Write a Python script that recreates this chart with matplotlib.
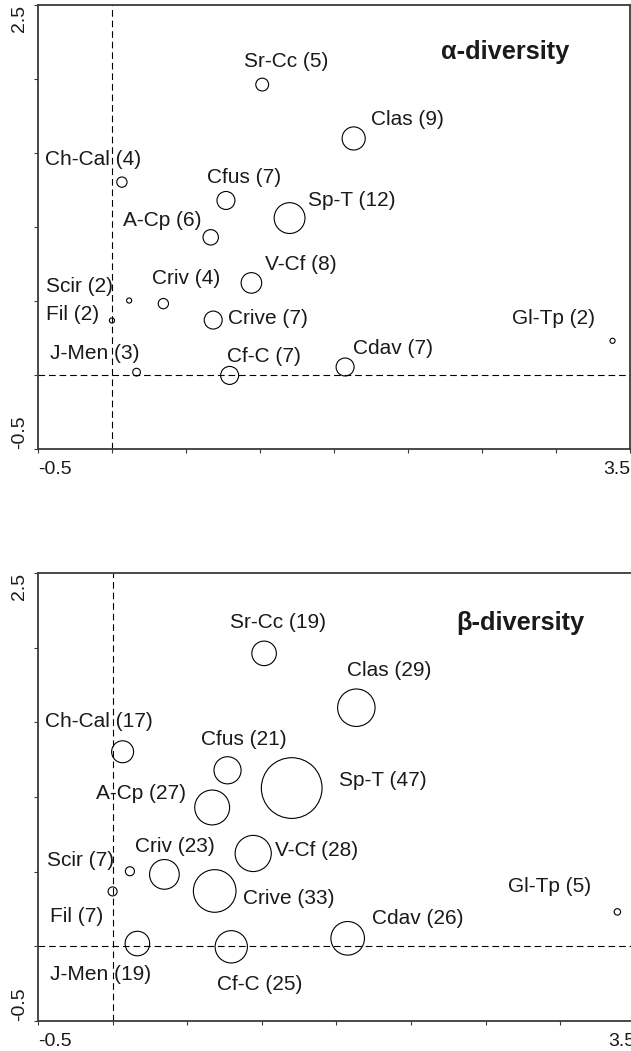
import matplotlib
matplotlib.use("Agg")
import matplotlib.pyplot as plt

plt.rcParams['font.family'] = ['Liberation Sans', 'DejaVu Sans']

# ordination scores of the assemblages (same for both panels)
groups = ["Sr-Cc", "Clas", "Ch-Cal", "Cfus", "Sp-T", "A-Cp", "V-Cf", "Criv",
          "Scir", "Fil", "Crive", "J-Men", "Cf-C", "Cdav", "Gl-Tp"]
axis1 = [1.015, 1.633, 0.067, 0.770, 1.200, 0.667, 0.942, 0.347,
         0.116, 0.000, 0.684, 0.166, 0.795, 1.575, 3.382]
axis2 = [1.962, 1.598, 1.303, 1.179, 1.060, 0.930, 0.622, 0.482,
         0.503, 0.368, 0.371, 0.019, -0.003, 0.054, 0.231]

alpha_div = [5, 9, 4, 7, 12, 6, 8, 4, 2, 2, 7, 3, 7, 7, 2]
beta_div = [19, 29, 17, 21, 47, 27, 28, 23, 7, 7, 33, 19, 25, 26, 5]

xticks = [-0.5, 0, 0.5, 1, 1.5, 2, 2.5, 3, 3.5]
yticks = [-0.5, 0, 0.5, 1, 1.5, 2, 2.5]

# label offsets in pixels from each circle
alpha_off = [(-18, 23), (17, 19), (-77, 23), (-19, 23), (18, 18), (-88, 17),
             (14, 18), (-11, 25), (-83, 14), (-66, 6), (15, 2), (-87, 19),
             (-3, 19), (8, 18), (-101, 22)]
beta_off = [(-34, 31), (-9, 37), (-78, 30), (-27, 31), (47, 8), (-116, 14),
            (22, 3), (-29, 28), (-83, 11), (-63, -25), (28, -8), (-87, -31),
            (-14, -38), (24, 20), (-109, 25)]

panels = [
    ("α-diversity", alpha_div, alpha_off, 1.85, [0.0602, 0.5728, 0.9382, 0.4225], (0.680, 0.895)),
    ("β-diversity", beta_div, beta_off, 0.93, [0.0602, 0.0285, 0.9461, 0.4263], (0.701, 0.888)),
]

spine_col = '#3a3a3a'
fig = plt.figure(figsize=(6.31, 10.51), dpi=100)

for title, vals, offs, k, pos, tpos in panels:
    ax = fig.add_axes(pos)
    ax.set_xlim(-0.5, 3.5)
    ax.set_ylim(-0.5, 2.5)
    ax.axvline(0, color='black', lw=0.8, dashes=(6, 3.5), zorder=1)
    ax.axhline(0, color='black', lw=0.8, dashes=(6, 3.5), zorder=1)
    ax.scatter(axis1, axis2, s=[(k * v) ** 2 for v in vals], facecolors='none',
               edgecolors='black', linewidths=0.8, zorder=3, clip_on=False)
    for g, v, x, y, (dx, dy) in zip(groups, vals, axis1, axis2, offs):
        ax.annotate(f"{g} ({v})", (x, y), xytext=(dx, dy), textcoords='offset pixels',
                    ha='left', va='center', fontsize=15, color='#1a1a1a')
    ax.text(tpos[0], tpos[1], title, transform=ax.transAxes, ha='left', va='center',
            fontsize=18.3, fontweight='bold', color='#1a1a1a')

    ax.set_xticks(xticks)
    ax.set_xticklabels(['-0.5'] + [''] * 7 + ['3.5'])
    ax.set_yticks(yticks)
    ax.set_yticklabels(['-0.5'] + [''] * 5 + ['2.5'], rotation=90)
    ax.get_xticklabels()[0].set_ha('left')
    ax.get_xticklabels()[-1].set_ha('right')
    ax.get_yticklabels()[0].set_va('bottom')
    ax.get_yticklabels()[-1].set_va('top')
    ax.tick_params(axis='x', direction='out', length=3, width=0.8, color=spine_col,
                   labelsize=14, pad=5.5, labelcolor='#1a1a1a')
    ax.tick_params(axis='y', direction='out', length=3, width=0.8, color=spine_col,
                   labelsize=14, pad=4, labelcolor='#1a1a1a')
    for sp in ax.spines.values():
        sp.set_color(spine_col)
        sp.set_linewidth(1.3)

fig.savefig("out.png", dpi=100)
